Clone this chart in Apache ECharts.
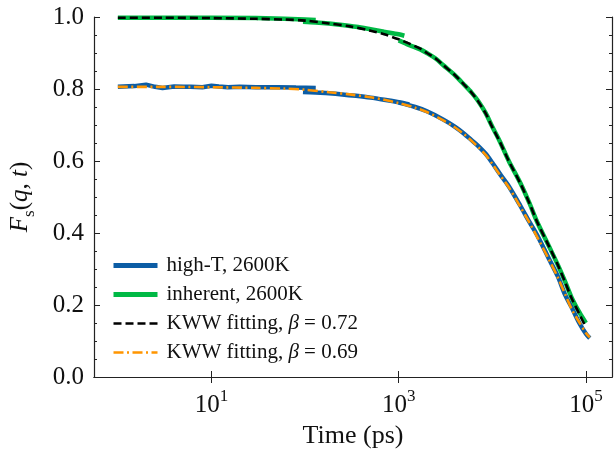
<!DOCTYPE html>
<html>
<head>
<meta charset="utf-8">
<script src="https://cdn.jsdelivr.net/npm/echarts@6/dist/echarts.min.js"></script>
<style>
  html, body { margin: 0; padding: 0; background: #fff; }
  #chart { width: 614px; height: 452px; }
</style>
</head>
<body>
<div id="chart"></div>
<script>
// 数据：从图上读出来的值 (time in ps, Fs)
const blueTimeA = [1, 1.5, 2, 2.5, 3, 4, 5, 6, 8, 10, 12, 15, 20, 30, 50, 80, 130]
const blueFsA = [0.806, 0.808, 0.812, 0.806, 0.803, 0.807, 0.806, 0.806, 0.805, 0.809, 0.807, 0.805, 0.806, 0.805, 0.805, 0.804, 0.803]
const blueTimeB = [95, 130, 180, 250, 350, 500, 700, 1000, 1300]
const blueFsB = [0.792, 0.79, 0.788, 0.785, 0.781, 0.776, 0.77, 0.763, 0.757]
const blueTimeC = [1000, 1500, 2000, 3000, 4000, 5000, 6000, 7000, 8500, 10000, 12000, 15000, 20000, 25000, 30000, 40000, 50000, 60000, 70000, 85000, 100000, 110000]
const blueFsC = [0.762, 0.75, 0.738, 0.715, 0.695, 0.676, 0.658, 0.643, 0.62, 0.595, 0.565, 0.53, 0.475, 0.43, 0.395, 0.33, 0.28, 0.228, 0.195, 0.15, 0.12, 0.108]

const greenTimeA = [1, 3, 10, 30, 60, 100, 130]
const greenFsA = [0.998, 0.998, 0.998, 0.997, 0.995, 0.993, 0.992]
const greenTimeB = [95, 130, 180, 250, 350, 500, 700, 1000, 1150]
const greenFsB = [0.987, 0.985, 0.982, 0.978, 0.973, 0.966, 0.959, 0.952, 0.948]
const greenTimeC = [1000, 1300, 1700, 2000, 2500, 3000, 4000, 5000, 6000, 7000, 8500, 10000, 12000, 15000, 20000, 25000, 30000, 40000, 50000, 60000, 70000, 85000, 100000]
const greenFsC = [0.935, 0.922, 0.91, 0.9, 0.884, 0.866, 0.838, 0.812, 0.79, 0.768, 0.733, 0.695, 0.655, 0.6, 0.538, 0.482, 0.432, 0.365, 0.312, 0.265, 0.222, 0.18, 0.15]

// KWW 拟合曲线
const kwwTime1 = [1, 3, 10, 30, 60, 100, 180, 300, 500, 700, 1000, 1300, 1700, 2000, 2500, 3000, 4000, 5000, 6000, 7000, 8500, 10000, 12000, 15000, 20000, 25000, 30000, 40000, 50000, 60000, 70000, 85000, 100000]
const kwwFs1 = [0.998, 0.998, 0.997, 0.995, 0.993, 0.99, 0.982, 0.974, 0.962, 0.952, 0.938, 0.926, 0.912, 0.9, 0.884, 0.866, 0.838, 0.812, 0.79, 0.767, 0.732, 0.694, 0.654, 0.6, 0.537, 0.482, 0.432, 0.365, 0.312, 0.263, 0.22, 0.175, 0.138]
const kwwTime2 = [1, 3, 10, 30, 60, 100, 180, 300, 500, 700, 1000, 1500, 2000, 3000, 4000, 5000, 6000, 7000, 8500, 10000, 12000, 15000, 20000, 25000, 30000, 40000, 50000, 60000, 70000, 85000, 100000, 110000]
const kwwFs2 = [0.806, 0.806, 0.805, 0.803, 0.801, 0.798, 0.791, 0.785, 0.777, 0.77, 0.761, 0.748, 0.736, 0.713, 0.693, 0.674, 0.656, 0.64, 0.617, 0.592, 0.562, 0.527, 0.472, 0.428, 0.39, 0.328, 0.277, 0.23, 0.19, 0.152, 0.122, 0.11]

// 刻度
const xTicks = [10, 1000, 100000]

const names = ['high-T, 2600K', 'inherent, 2600K', 'KWW fitting, β = 0.72', 'KWW fitting, β = 0.69']
const colors = ['#0C5DA5', '#00B945', '#000000', '#FF9500']
const widths = [4.5, 4.5, 2.6, 2.6]
const dashes = ['solid', 'solid', [8, 4], [10, 3.5, 2, 3.5]]

const FONT = 'Liberation Serif'
const pairs = (t, f) => t.map((v, i) => [v, f[i]])

const lineSeries = (k, t, f, smooth) => ({
  name: names[k],
  type: 'line',
  xAxisIndex: 0,
  yAxisIndex: 0,
  data: pairs(t, f),
  symbol: 'none',
  showSymbol: false,
  smooth: smooth || false,
  animation: false,
  lineStyle: { color: colors[k], width: widths[k], type: dashes[k] },
  itemStyle: { color: colors[k] }
})

const axisLine = { show: true, lineStyle: { color: '#222', width: 1.2 } }

const xAxisBase = {
  type: 'log',
  logBase: 10,
  min: 0.556,
  max: 190000,
  axisLine: axisLine,
  splitLine: { show: false },
  axisTick: { show: true, inside: true, length: 6, customValues: xTicks, lineStyle: { color: '#222', width: 1 } },
  minorTick: { show: false }
}

const yAxisBase = {
  type: 'value',
  min: 0,
  max: 1,
  interval: 0.2,
  axisLine: axisLine,
  splitLine: { show: false },
  axisTick: { show: true, inside: true, length: 6, lineStyle: { color: '#222', width: 1 } },
  minorTick: { show: true, splitNumber: 4, length: 3, lineStyle: { color: '#222', width: 1 } }
}

const option = {
  backgroundColor: '#fff',
  animation: false,
  textStyle: { fontFamily: FONT, color: '#111' },
  grid: { left: 94, right: 2, top: 17, bottom: 75, outerBoundsMode: 'none' },
  legend: {
    data: names.map((n, k) => ({
      name: n,
      lineStyle: { color: colors[k], width: widths[k] + (k < 2 ? 0.5 : 0), type: dashes[k] }
    })),
    orient: 'vertical',
    left: 106,
    top: 250,
    itemWidth: 44,
    itemHeight: 14,
    itemGap: 8,
    itemStyle: { opacity: 0 },
    textStyle: {
      fontFamily: FONT, fontSize: 21, lineHeight: 19, color: '#111', padding: [0, 0, 0, 4],
      rich: { i: { fontFamily: FONT, fontSize: 21, lineHeight: 19, fontStyle: 'italic', color: '#111' } }
    },
    formatter: (name) => name.replace('β', '{i|β}')
  },
  xAxis: [
    Object.assign({}, xAxisBase, {
      position: 'bottom',
      name: 'Time (ps)',
      nameLocation: 'middle',
      nameGap: 37,
      nameTextStyle: { fontFamily: FONT, fontSize: 26, color: '#111' },
      axisLabel: {
        show: true,
        margin: 11,
        customValues: xTicks,
        formatter: (v) => '{b|10}{s|' + Math.round(Math.log10(v)) + '}',
        rich: {
          b: { fontFamily: FONT, fontSize: 25, lineHeight: 30, verticalAlign: 'bottom', color: '#111' },
          s: { fontFamily: FONT, fontSize: 17, lineHeight: 17, verticalAlign: 'top', color: '#111' }
        }
      }
    }),
    Object.assign({}, xAxisBase, { position: 'top', axisLabel: { show: false } })
  ],
  yAxis: [
    Object.assign({}, yAxisBase, {
      position: 'left',
      name: '{i|F}{s|s}{n|(}{i|q}{n|, }{i|t}{n|)}',
      nameLocation: 'middle',
      nameRotate: 90,
      nameGap: 56,
      nameTextStyle: {
        fontFamily: FONT, fontSize: 25, color: '#111',
        rich: {
          i: { fontFamily: FONT, fontSize: 25, fontStyle: 'italic', lineHeight: 30, verticalAlign: 'top', color: '#111' },
          n: { fontFamily: FONT, fontSize: 25, lineHeight: 30, verticalAlign: 'top', color: '#111' },
          s: { fontFamily: FONT, fontSize: 17, lineHeight: 17, verticalAlign: 'bottom', color: '#111' }
        }
      },
      axisLabel: { show: true, margin: 10, fontFamily: FONT, fontSize: 25, color: '#111', formatter: (v) => v.toFixed(1) }
    }),
    Object.assign({}, yAxisBase, { position: 'right', axisLabel: { show: false } })
  ],
  series: [
    lineSeries(0, blueTimeA, blueFsA),
    lineSeries(0, blueTimeB, blueFsB, 0.3),
    lineSeries(0, blueTimeC, blueFsC, 0.3),
    lineSeries(1, greenTimeA, greenFsA),
    lineSeries(1, greenTimeB, greenFsB, 0.3),
    lineSeries(1, greenTimeC, greenFsC, 0.3),
    lineSeries(2, kwwTime1, kwwFs1, 0.3),
    lineSeries(3, kwwTime2, kwwFs2, 0.3)
  ]
}

const chart = echarts.init(document.getElementById('chart'))
chart.setOption(option)
</script>
</body>
</html>
